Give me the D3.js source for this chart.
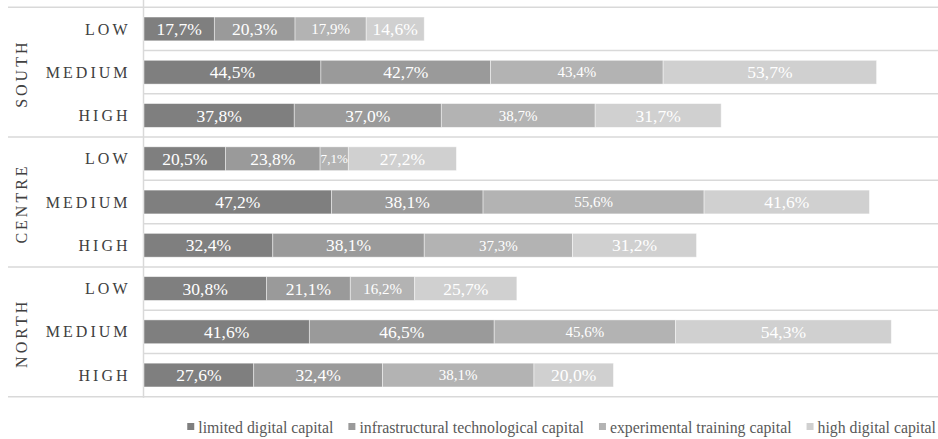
<!DOCTYPE html>
<html>
<head>
<meta charset="utf-8">
<script src="https://cdn.jsdelivr.net/npm/d3@7"></script>
<style>
  html, body { margin: 0; padding: 0; background: #fff; }
</style>
</head>
<body>
<svg id="chart" width="938" height="439"></svg>
<script>
// Areas (outer level) and digital-capital levels (inner level)
const areas = ["SOUTH", "CENTRE", "NORTH"];
const levels = ["LOW", "MEDIUM", "HIGH"];

// Capital types (stack order, left to right)
const series = [
  "limited digital capital",
  "infrastructural technological capital",
  "experimental training capital",
  "high digital capital"
];

// Percentages per row, rows ordered SOUTH LOW/MEDIUM/HIGH, CENTRE ..., NORTH ...
const limitedDigital       = [17.7, 44.5, 37.8, 20.5, 47.2, 32.4, 30.8, 41.6, 27.6];
const infrastructuralTech  = [20.3, 42.7, 37.0, 23.8, 38.1, 38.1, 21.1, 46.5, 32.4];
const experimentalTraining = [17.9, 43.4, 38.7,  7.1, 55.6, 37.3, 16.2, 45.6, 38.1];
const highDigital          = [14.6, 53.7, 31.7, 27.2, 41.6, 31.2, 25.7, 54.3, 20.0];

const colors = ["#7f7f7f", "#9a9a9a", "#b3b3b3", "#d0d0d0"];

const valueArrays = [limitedDigital, infrastructuralTech, experimentalTraining, highDigital];

const rows = [];
areas.forEach((a, ai) => levels.forEach((l, li) => {
  const i = ai * levels.length + li;
  const row = { key: a + "|" + l, area: a, level: l };
  series.forEach((s, si) => { row[s] = valueArrays[si][i]; });
  rows.push(row);
}));

const FONT = "'Liberation Serif', 'Times New Roman', Tinos, 'DejaVu Serif', serif";
const svg = d3.select("#chart").attr("font-family", FONT);
const W = 938;
const plotLeft = 144, plotTop = 7.3, plotBottom = 396.7;

const x = d3.scaleLinear().domain([0, 200]).range([plotLeft, plotLeft + 795]);
const y = d3.scaleBand()
  .domain(rows.map(r => r.key))
  .range([plotTop, plotBottom])
  .paddingInner(0.45)
  .paddingOuter(0.225);

const gridColor = "#d9d9d9";
const step = y.step();

// Row separators: full width at area boundaries, plot-only inside an area
const grid = svg.append("g");
rows.forEach((r, i) => {
  const yy = y(r.key) - y.paddingOuter() * step;
  const isAreaStart = i % levels.length === 0;
  grid.append("line")
    .attr("x1", isAreaStart ? 8 : plotLeft).attr("x2", W)
    .attr("y1", yy).attr("y2", yy)
    .attr("stroke", gridColor).attr("stroke-width", 1.5);
});
grid.append("line")
  .attr("x1", 8).attr("x2", W)
  .attr("y1", plotBottom).attr("y2", plotBottom)
  .attr("stroke", gridColor).attr("stroke-width", 1.5);
grid.append("line")
  .attr("x1", plotLeft - 0.5).attr("x2", plotLeft - 0.5)
  .attr("y1", 0).attr("y2", plotBottom + 1)
  .attr("stroke", gridColor).attr("stroke-width", 1.5);

// Stacked bars
const stack = d3.stack().keys(series)(rows);
const layers = svg.append("g").selectAll("g")
  .data(stack).join("g")
  .attr("fill", (d, i) => colors[i]);

layers.selectAll("rect")
  .data(d => d).join("rect")
  .attr("x", d => x(d[0]))
  .attr("y", d => y(d.data.key))
  .attr("width", d => x(d[1]) - x(d[0]))
  .attr("height", y.bandwidth())
  .attr("stroke", "#ffffff")
  .attr("stroke-opacity", 0.55)
  .attr("stroke-width", 0.8);

// Value labels
const fmt = v => v.toFixed(1).replace(".", ",") + "%";
stack.forEach((layer, si) => {
  const g = svg.append("g");
  const base = si === 2 ? 15 : 17.5;
  layer.forEach(d => {
    const v = d[1] - d[0];
    const w = x(d[1]) - x(d[0]);
    const t = g.append("text")
      .attr("x", (x(d[0]) + x(d[1])) / 2)
      .attr("y", y(d.data.key) + y.bandwidth() / 2)
      .attr("dy", "0.35em")
      .attr("text-anchor", "middle")
      .attr("fill", "#ffffff")
      .attr("font-size", base)
      .text(fmt(v));
    const len = t.node().getComputedTextLength();
    if (len > w - 1) t.attr("font-size", base * (w - 1) / len);
  });
});

// Level labels
const catColor = "#404040";
svg.append("g").selectAll("text")
  .data(rows).join("text")
  .attr("x", 130.5)
  .attr("y", d => y(d.key) + y.bandwidth() / 2)
  .attr("dy", "0.35em")
  .attr("text-anchor", "end")
  .attr("font-size", 16)
  .attr("letter-spacing", 3)
  .attr("fill", catColor)
  .text(d => d.level);

// Area labels, rotated
areas.forEach(a => {
  const first = y(a + "|" + levels[0]) - y.paddingOuter() * step;
  const last = y(a + "|" + levels[levels.length - 1]) + y.bandwidth() + y.paddingOuter() * step;
  const cy = (first + last) / 2 + 1.5;
  svg.append("text")
    .attr("transform", `translate(27,${cy}) rotate(-90)`)
    .attr("text-anchor", "middle")
    .attr("font-size", 16)
    .attr("letter-spacing", 3)
    .attr("fill", catColor)
    .text(a);
});

// Legend, right-aligned at the bottom
const legend = svg.append("g");
const items = series.map((s, i) => {
  const g = legend.append("g");
  g.append("rect").attr("width", 7).attr("height", 7).attr("y", -10).attr("fill", colors[i]);
  const t = g.append("text").attr("x", 11).attr("font-size", 15.8)
    .attr("fill", "#595959").text(s);
  return { g, w: 11 + t.node().getComputedTextLength() };
});
const gap = 15;
const total = d3.sum(items, d => d.w) + gap * (items.length - 1);
let cx = 936 - total;
items.forEach(it => {
  it.g.attr("transform", `translate(${cx},433)`);
  cx += it.w + gap;
});
</script>
</body>
</html>
